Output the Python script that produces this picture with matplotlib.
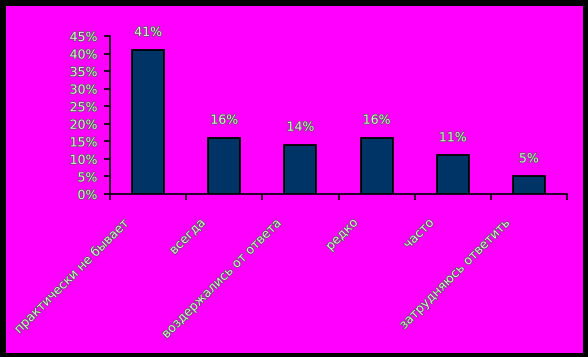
import matplotlib
matplotlib.use("Agg")
import matplotlib.pyplot as plt
import matplotlib.patheffects as pe
import matplotlib.transforms as mtransforms
from matplotlib.ticker import PercentFormatter, FixedLocator, NullFormatter
import numpy as np

categories = ["практически не бывает", "всегда", "воздержались от ответа",
              "редко", "часто", "затрудняюсь ответить"]
values = [41, 16, 14, 16, 11, 5]
value_labels = ["41%", "16%", "14%", "16%", "11%", "5%"]

W, H = 588, 357
fig = plt.figure(figsize=(W / 100, H / 100), dpi=100)
fig.patch.set_facecolor("black")

# magenta inner panel
bg = fig.add_axes([6 / W, (H - 353) / H, (583 - 6) / W, (353 - 6) / H])
bg.set_facecolor("#FF00FF")
bg.set_xticks([]); bg.set_yticks([])
for s in bg.spines.values():
    s.set_visible(False)

ax = fig.add_axes([110 / W, (H - 194) / H, (567 - 110) / W, (194 - 36) / H])
ax.patch.set_visible(False)

x = np.arange(len(categories))
ax.bar(x, values, width=0.42, color="#003366", edgecolor="black", linewidth=1.3, zorder=3)
ax.set_xlim(-0.5, len(categories) - 0.5)
ax.set_ylim(0, 45)
ax.set_yticks(np.arange(0, 46, 5))
ax.yaxis.set_major_formatter(PercentFormatter(decimals=0))

for sp in ["top", "right"]:
    ax.spines[sp].set_visible(False)
for sp in ["left", "bottom"]:
    ax.spines[sp].set_color("black")
    ax.spines[sp].set_linewidth(1.2)

txt_effect = [pe.withStroke(linewidth=1.0, foreground="#555555")]
txt_color = "#e6e6e6"
fs = 9

ax.tick_params(axis="y", direction="out", length=4, width=1.2, color="black",
               labelsize=fs, labelcolor=txt_color, pad=5)
for lab in ax.get_yticklabels():
    lab.set_path_effects(txt_effect)

# x ticks at category boundaries
ax.xaxis.set_major_locator(FixedLocator(np.arange(-0.5, len(categories), 1.0)))
ax.xaxis.set_major_formatter(NullFormatter())
ax.tick_params(axis="x", direction="out", length=4, width=1.2, color="black")

offset = mtransforms.ScaledTranslation(-16 / 100, -22 / 100, fig.dpi_scale_trans)
for i, c in enumerate(categories):
    ax.text(i, 0, c, transform=ax.get_xaxis_transform() + offset,
            rotation=45, ha="right", va="top", fontsize=fs, color=txt_color,
            path_effects=txt_effect)

for i, (v, lab) in enumerate(zip(values, value_labels)):
    ax.annotate(lab, (i, v), xytext=(0, 8), textcoords="offset points",
                ha="center", va="bottom", fontsize=fs, color=txt_color,
                path_effects=txt_effect)

fig.savefig("out.png", dpi=100, facecolor=fig.get_facecolor())
